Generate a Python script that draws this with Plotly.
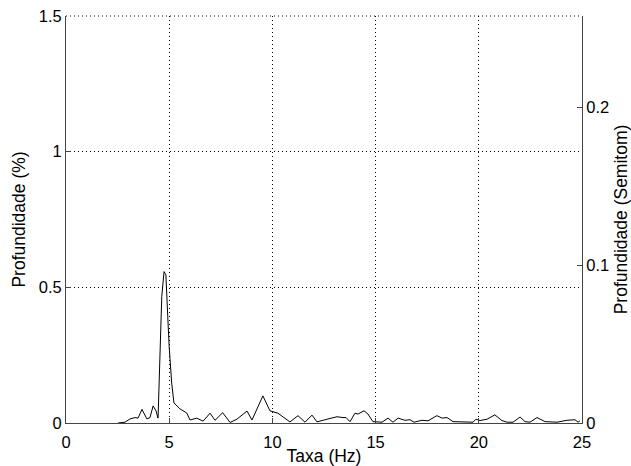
import math
import plotly.graph_objects as go

# Frequency (Hz) and depth (%)
freq_hz = [2.52, 2.86, 3.10, 3.34, 3.49, 3.68, 3.92, 4.07, 4.22, 4.36, 4.46, 4.55, 4.64, 4.75,
           4.84, 4.93, 5.00, 5.12, 5.23, 5.52, 5.85, 6.01, 6.33, 6.64, 6.98, 7.22, 7.59, 7.95,
           8.28, 8.77, 9.01, 9.54, 9.88, 10.27, 10.85, 11.24, 11.58, 11.92, 12.16, 12.65, 13.13,
           13.42, 13.57, 13.76, 14.00, 14.15, 14.44, 14.63, 14.87, 15.31, 15.60, 15.84, 16.09,
           16.42, 16.67, 16.86, 17.25, 17.54, 17.97, 18.22, 18.46, 18.75, 19.33, 19.72, 19.86,
           20.06, 20.40, 20.78, 21.12, 21.37, 21.66, 22.00, 22.24, 22.48, 22.82, 23.21, 23.79,
           24.27, 24.66, 24.81, 24.90]
depth_pct = [0.0, 0.003, 0.015, 0.02, 0.018, 0.05, 0.015, 0.02, 0.063, 0.045, 0.018, 0.28, 0.466, 0.558,
             0.546, 0.392, 0.28, 0.147, 0.074, 0.052, 0.037, 0.011, 0.018, 0.007, 0.036, 0.01, 0.038, 0.002,
             0.014, 0.044, 0.011, 0.1, 0.045, 0.036, 0.004, 0.027, 0.003, 0.029, 0.004, 0.014, 0.023,
             0.02, 0.02, 0.005, 0.036, 0.033, 0.045, 0.033, 0.005, 0.003, 0.018, 0.003, 0.018,
             0.01, 0.012, 0.003, 0.01, 0.008, 0.027, 0.018, 0.02, 0.005, 0.003, 0.003, 0.014,
             0.009, 0.014, 0.03, 0.009, 0.003, 0.003, 0.022, 0.005, 0.003, 0.02, 0.005, 0.003,
             0.01, 0.012, 0.003, 0.008]

x_ticks = [0, 5, 10, 15, 20, 25]
y_ticks = [0, 0.5, 1, 1.5]
y_ticklabels = ["0", "0.5", "1", "1.5"]
y2_ticks = [0, 0.1, 0.2]
y2_ticklabels = ["0", "0.1", "0.2"]

def pct_to_semitone(p):
    return 12 * math.log2(1 + p / 100.0)

y_max = 1.5
y2_max = pct_to_semitone(y_max)

FONT = "Liberation Sans, Arial, sans-serif"
AX = "#444444"
GRID_DASH = "1px,3px"
TICK_SIZE = 16.5
TITLE_SIZE = 17.5

fig = go.Figure()
fig.add_trace(go.Scatter(x=freq_hz, y=depth_pct, mode="lines",
                         line=dict(color="black", width=1), showlegend=False,
                         hoverinfo="x+y"))
fig.add_trace(go.Scatter(x=freq_hz, y=[pct_to_semitone(v) for v in depth_pct], mode="lines",
                         line=dict(color="rgba(0,0,0,0)", width=1), showlegend=False,
                         hoverinfo="skip", yaxis="y2"))

common = dict(ticks="inside", ticklen=5, tickcolor=AX, showline=True, linecolor=AX, linewidth=1,
              zeroline=False, automargin=False, fixedrange=True,
              tickfont=dict(size=TICK_SIZE, color="black"))

fig.update_layout(
    width=631, height=466,
    margin=dict(l=66, r=49, t=16, b=43),
    paper_bgcolor="white", plot_bgcolor="white",
    font=dict(family=FONT, size=TICK_SIZE, color="black"),
    xaxis=dict(range=[0, 25], tickvals=x_ticks, ticktext=[str(v) for v in x_ticks],
               showgrid=True, gridcolor="black", griddash=GRID_DASH, gridwidth=1,
               ticklabelstandoff=4,
               title=dict(text="Taxa (Hz)", standoff=5, font=dict(size=TITLE_SIZE)),
               **common),
    yaxis=dict(range=[0, y_max], tickvals=y_ticks, ticktext=y_ticklabels,
               showgrid=True, gridcolor="black", griddash=GRID_DASH, gridwidth=1,
               title=dict(text="Profundidade (%)", standoff=8, font=dict(size=TITLE_SIZE)),
               **common),
    yaxis2=dict(range=[0, y2_max], tickvals=y2_ticks, ticktext=y2_ticklabels,
                overlaying="y", side="right", showgrid=False,
                title=dict(text="Profundidade (Semitom)", standoff=12, font=dict(size=TITLE_SIZE)),
                **common),
    shapes=[dict(type="line", xref="paper", yref="paper", x0=0, x1=1, y0=1, y1=1,
                 line=dict(color="black", width=1, dash=GRID_DASH), layer="above")],
)

fig.write_html("out.html")
